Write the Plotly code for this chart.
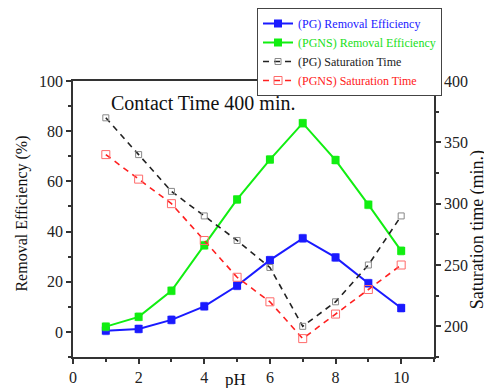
import plotly.graph_objects as go

ph = [1, 2, 3, 4, 5, 6, 7, 8, 9, 10]
pg_removal = [0.5, 1.2, 4.8, 10.2, 18.4, 28.6, 37.3, 29.7, 19.4, 9.5]
pgns_removal = [2.1, 6.0, 16.4, 34.5, 52.8, 68.7, 83.2, 68.5, 50.7, 32.3]
pg_removal_err = [1.5] * 10
pgns_removal_err = [1.5] * 10
pg_sat = [370, 340, 310, 290, 270, 248, 200, 220, 250, 290]
pgns_sat = [340, 320, 300, 270, 240, 220, 190, 210, 230, 250]

FONT = "'Liberation Serif', 'Times New Roman', Times, serif"

fig = go.Figure()
fig.add_trace(go.Scatter(
    x=ph, y=pg_removal, mode="lines+markers",
    name="<span style='color:#2020ff'>(PG) Removal Efficiency</span>",
    line=dict(color="#1a1aff", width=2),
    marker=dict(symbol="square", size=8, color="#1a1aff"),
    error_y=dict(type="data", array=pg_removal_err, color="rgba(90,90,255,0.6)", thickness=1.5, width=3),
))
fig.add_trace(go.Scatter(
    x=ph, y=pgns_removal, mode="lines+markers",
    name="<span style='color:#20e020'>(PGNS) Removal Efficiency</span>",
    line=dict(color="#11ee11", width=2),
    marker=dict(symbol="square", size=8, color="#11ee11"),
    error_y=dict(type="data", array=pgns_removal_err, color="rgba(80,240,80,0.6)", thickness=1.5, width=3),
))
fig.add_trace(go.Scatter(
    x=ph, y=pg_sat, mode="lines+markers", yaxis="y2",
    name="<span style='color:#222'>(PG) Saturation Time</span>",
    line=dict(color="#222222", width=1.6, dash="6px,5px"),
    marker=dict(symbol="square-open", size=6, color="#888888", line=dict(width=1)),
))
fig.add_trace(go.Scatter(
    x=ph, y=pgns_sat, mode="lines+markers", yaxis="y2",
    name="<span style='color:#ff2020'>(PGNS) Saturation Time</span>",
    line=dict(color="#ff2020", width=1.6, dash="6px,5px"),
    marker=dict(symbol="square-open", size=8, color="#ff6a6a", line=dict(width=1)),
))

axis_common = dict(
    showgrid=False, zeroline=False, showline=True, linecolor="#333", linewidth=1.5,
    ticks="outside", ticklen=5, tickwidth=1.5, tickcolor="#333",
    tickfont=dict(family=FONT, size=16, color="#222"),
)

fig.update_layout(
    width=484, height=380,
    margin=dict(l=65, r=58, t=73, b=31, autoexpand=False),
    paper_bgcolor="white", plot_bgcolor="white",
    font=dict(family=FONT, color="#222"),
    showlegend=True,
    legend=dict(
        xref="container", yref="container",
        x=0.5145, y=1.0, xanchor="left", yanchor="top",
        bordercolor="#444", borderwidth=1, bgcolor="white",
        font=dict(family=FONT, size=12), tracegroupgap=0,
    ),
    xaxis=dict(range=[0, 11], tickvals=[0, 2, 4, 6, 8, 10], mirror=True,
               minor=dict(dtick=1, ticks="outside", ticklen=3, tickcolor="#333"),
               **axis_common),
    yaxis=dict(range=[-10, 100], tickvals=[0, 20, 40, 60, 80, 100],
               minor=dict(dtick=10, ticks="outside", ticklen=3, tickcolor="#333"),
               **axis_common),
    yaxis2=dict(range=[175, 400], tickvals=[200, 250, 300, 350, 400], overlaying="y", side="right",
                minor=dict(tick0=175, dtick=25, ticks="outside", ticklen=3, tickcolor="#333"),
                **axis_common),
    annotations=[
        dict(text="Contact Time 400 min.", x=0.1, y=0.92, xref="paper", yref="paper",
             xanchor="left", yanchor="middle", showarrow=False,
             font=dict(family=FONT, size=20, color="#111")),
        dict(text="pH", x=0.449, y=-0.08, xref="paper", yref="paper",
             xanchor="center", yanchor="middle", showarrow=False,
             font=dict(family=FONT, size=17, color="#111")),
        dict(text="Removal Efficiency (%)", x=-0.141, y=0.52, xref="paper", yref="paper",
             xanchor="center", yanchor="middle", textangle=-90, showarrow=False,
             font=dict(family=FONT, size=16, color="#111")),
        dict(text="Saturation time (min.)", x=1.12, y=0.46, xref="paper", yref="paper",
             xanchor="center", yanchor="middle", textangle=-90, showarrow=False,
             font=dict(family=FONT, size=18, color="#111")),
    ],
)

fig.write_html("out.html")
